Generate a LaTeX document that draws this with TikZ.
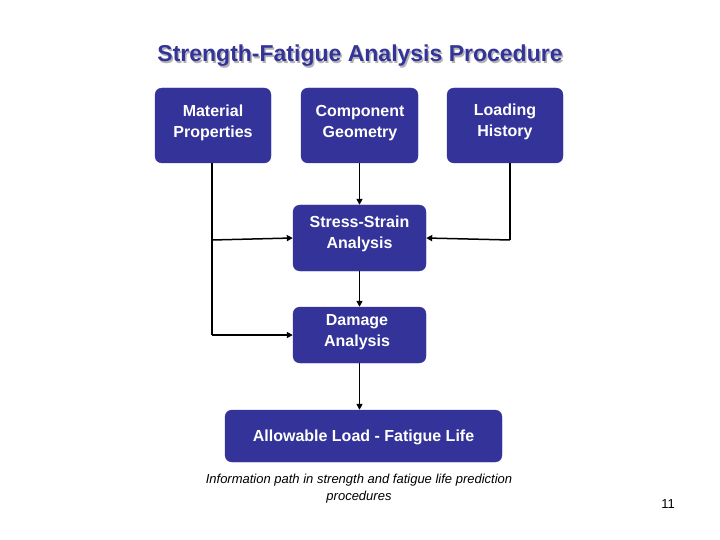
\documentclass[tikz,border=0pt]{standalone}
\usepackage{fontspec}
\setmainfont{Liberation Sans}
\usetikzlibrary{arrows.meta}
\definecolor{navy}{HTML}{333399}
\begin{document}
\begin{tikzpicture}[x=1pt,y=-1pt,
  box/.style={fill=navy,draw=navy,rounded corners=7pt,inner sep=0pt},
  lbl/.style={text=white,font=\bfseries\fontsize{16}{21}\selectfont,align=center,inner sep=0pt},
  conn/.style={line width=1.5pt,-{Triangle[length=6pt,width=6pt]}},
  wire/.style={line width=1.5pt}]
\useasboundingbox (0,0) rectangle (720,540);
\node[text=gray!60,font=\bfseries\fontsize{23}{27}\selectfont] at (361.5,57.5) {Strength-Fatigue Analysis Procedure};
\node (title) [text=navy,font=\bfseries\fontsize{23}{27}\selectfont] at (360,56) {Strength-Fatigue Analysis Procedure};
\node (mp) [box,minimum width=116pt,minimum height=75pt] at (213,125.5) {};
\node (mpt) [lbl] at (213,123) {Material\\Properties};
\node (cg) [box,minimum width=117pt,minimum height=75pt] at (359.5,125.5) {};
\node (cgt) [lbl] at (360,123) {Component\\Geometry};
\node (lh) [box,minimum width=116pt,minimum height=75pt] at (505,125.5) {};
\node (lht) [lbl] at (505,122) {Loading\\History};
\node (ss) [box,minimum width=133pt,minimum height=66pt] at (359.5,238) {};
\node (sst) [lbl] at (359.5,234) {Stress-Strain\\Analysis};
\node (da) [box,minimum width=133pt,minimum height=56pt] at (359.5,335) {};
\node (dat) [lbl] at (357,332) {Damage\\Analysis};
\node (al) [box,minimum width=277pt,minimum height=52pt] at (363.5,436) {};
\node (alt) [lbl] at (363.5,437) {Allowable Load - Fatigue Life};
\node (cap) [font=\itshape\fontsize{13}{17}\selectfont,align=center] at (359,489) {Information path in strength and fatigue life prediction\\procedures};
\node (pg) [font=\fontsize{13}{15}\selectfont] at (668,504) {11};
\coordinate (mpc) at (212,163);
\coordinate (j1) at (212,240);
\coordinate (j2) at (212,335);
\coordinate (lhc) at (510,163);
\coordinate (j3) at (510,240);
\draw[wire] (mpc) -- (j2);
\draw[conn] (j1) -- (ss.west);
\draw[conn] (j2) -- (da.west);
\draw[conn] (cg.south) -- (ss.north);
\draw[wire] (lhc) -- (j3);
\draw[conn] (j3) -- (ss.east);
\draw[conn] (ss.south) -- (da.north);
\draw[conn] (da.south) -- (da.south |- al.north);
\end{tikzpicture}
\end{document}
